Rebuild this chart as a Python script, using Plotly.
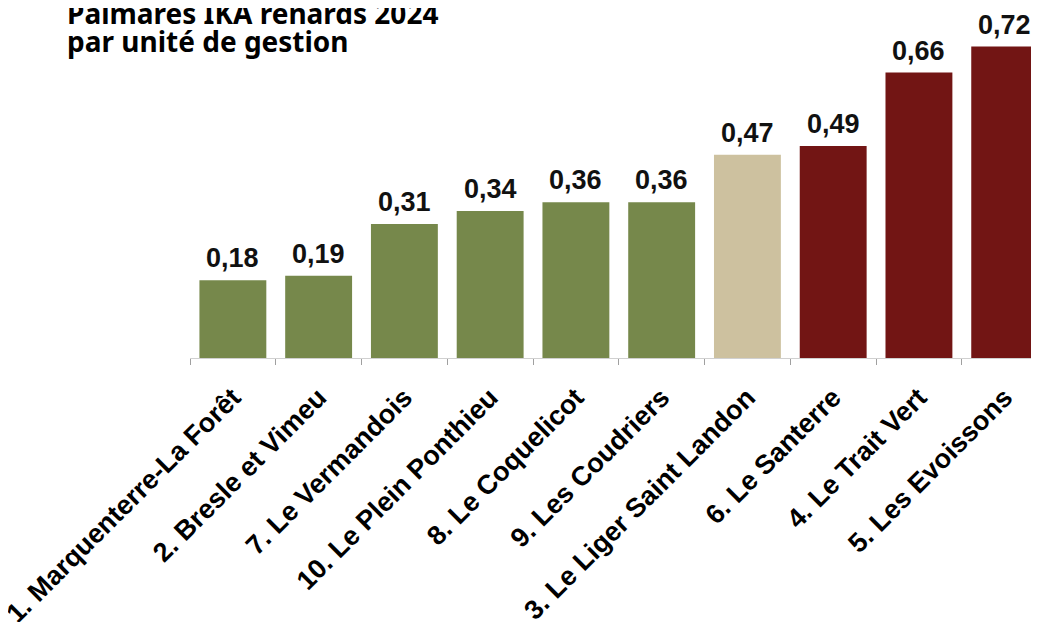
import plotly.graph_objects as go

categories = [
    "1. Marquenterre-La Forêt",
    "2. Bresle et Vimeu",
    "7. Le Vermandois",
    "10. Le Plein Ponthieu",
    "8. Le Coquelicot",
    "9. Les Coudriers",
    "3. Le Liger Saint Landon",
    "6. Le Santerre",
    "4. Le Trait Vert",
    "5. Les Evoissons",
]
values = [0.18, 0.19, 0.31, 0.34, 0.36, 0.36, 0.47, 0.49, 0.66, 0.72]
value_labels = ["0,18", "0,19", "0,31", "0,34", "0,36", "0,36", "0,47", "0,49", "0,66", "0,72"]
title_lines = ["Palmares IKA renards 2024", "par unité de gestion"]

GREEN = "#76884b"
BEIGE = "#cdc19f"
RED = "#721514"
bar_colors = [GREEN] * 6 + [BEIGE] + [RED] * 3

fig = go.Figure()
fig.add_trace(go.Bar(
    x=categories,
    y=values,
    marker=dict(color=bar_colors, line=dict(width=0)),
    width=0.78,
    hoverinfo="skip",
))

for c, v, t in zip(categories, values, value_labels):
    fig.add_annotation(
        x=c, y=v, xref="x", yref="y",
        text=t, showarrow=False,
        yanchor="bottom", xanchor="center", yshift=5,
        font=dict(family="Liberation Sans, Arial", size=27, color="#111111", weight="bold"),
    )

# page body has an 8px margin, so the figure is 8px smaller each way
W, H = 1031, 614
ml, mr, mt, mb = 182, 0, 4, 264
plot_w = W - ml - mr
plot_h = H - mt - mb

title_baselines = [17, 45]  # figure pixels from top
for line, base in zip(title_lines, title_baselines):
    fig.add_annotation(
        xref="paper", yref="paper",
        x=(57 - ml) / plot_w, y=(H - mb - base) / plot_h,
        xanchor="left", yanchor="bottom", yshift=-9,
        text=line, showarrow=False,
        font=dict(family="Noto Sans", size=28, color="#000000", weight="bold"),
    )

fig.update_layout(
    width=W, height=H,
    margin=dict(l=ml, r=mr, t=mt, b=mb, autoexpand=False),
    paper_bgcolor="white", plot_bgcolor="white",
    showlegend=False,
    xaxis=dict(
        type="category",
        range=[-0.5, 9.4],
        showline=True, linecolor="#d0d0d0", linewidth=1,
        ticks="outside", tickson="boundaries", ticklen=6, tickcolor="#a0a0a0", tickwidth=1,
        tickangle=-45,
        ticklabelstandoff=12,
        tickfont=dict(family="Liberation Sans, Arial", size=27, color="#000000", weight="bold"),
        showgrid=False, zeroline=False,
        fixedrange=True,
    ),
    yaxis=dict(
        range=[0, 0.8],
        visible=False, showgrid=False, zeroline=False,
        fixedrange=True,
    ),
)

fig.write_html("out.html")
